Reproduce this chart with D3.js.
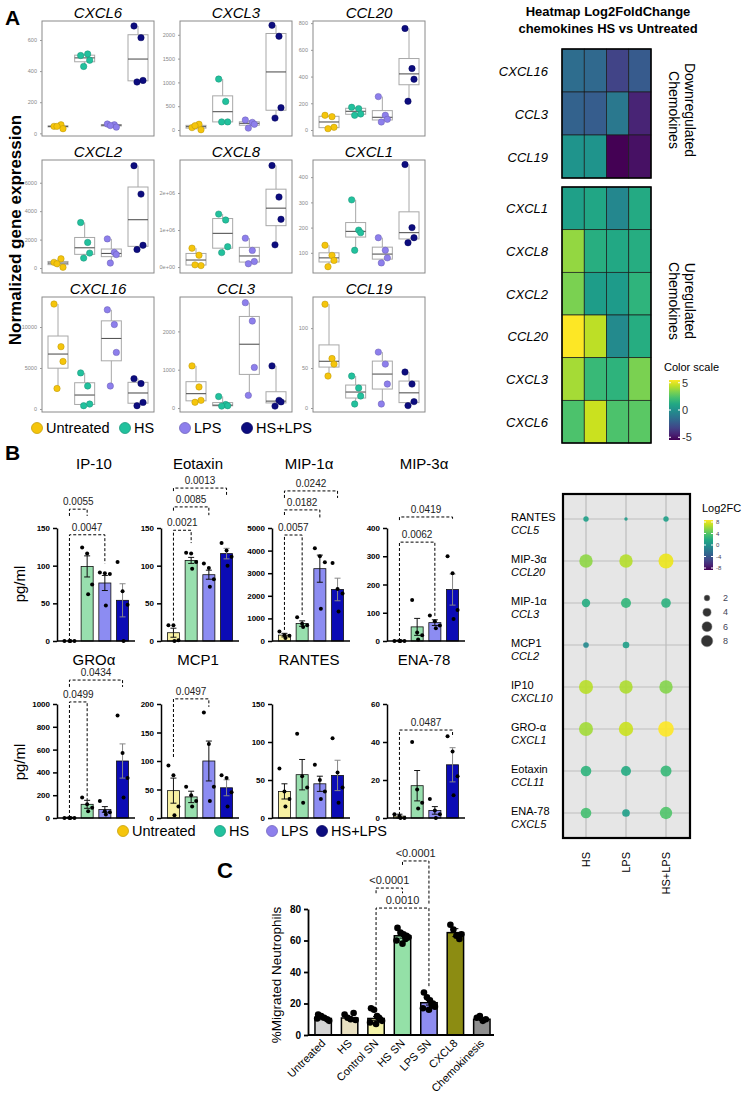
<!DOCTYPE html>
<html>
<head>
<meta charset="utf-8">
<script src="https://cdn.jsdelivr.net/npm/d3@7"></script>
<style>
body { margin: 0; background: #fff; }
svg { display: block; font-family: "Liberation Sans", Arial, sans-serif; }
</style>
</head>
<body>
<div id="fig"></div>
<script>
const groups = ["Untreated", "HS", "LPS", "HS+LPS"];
const groupColors = ["#f5c50c", "#22c19d", "#8d7fec", "#0c0c7e"];

// A - normalized expression, 4 samples per group
const genesA = ["CXCL6", "CXCL3", "CCL20", "CXCL2", "CXCL8", "CXCL1", "CXCL16", "CCL3", "CCL19"];
const cxcl6 = [[45, 55, 30, 45], [500, 510, 470, 430], [60, 55, 40, 50], [690, 615, 340, 330]];
const cxcl3 = [[50, 120, 5, 90], [1070, 600, 170, 170], [210, 160, 120, 40], [2200, 1970, 470, 250]];
const ccl20 = [[110, 100, 20, 10], [170, 160, 120, 110], [250, 110, 80, 60], [760, 460, 380, 215]];
const cxcl2 = [[400, 650, 50, 300], [3200, 1800, 1050, 700], [2050, 1100, 950, 350], [7200, 5200, 1600, 1300]];
const cxcl8 = [[0.51e6, 0.32e6, 0.04e6, 0.06e6], [1.43e6, 1.27e6, 0.55e6, 0.39e6], [0.78e6, 0.45e6, 0.15e6, 0.09e6], [2.74e6, 1.89e6, 1.29e6, 0.6e6]];
const cxcl1 = [[130, 90, 70, 45], [310, 190, 180, 110], [160, 110, 80, 60], [450, 200, 160, 140]];
const cxcl16 = [[12800, 7600, 5800, 2500], [4400, 2800, 600, 400], [12100, 10300, 6900, 2800], [3700, 3100, 800, 400]];
const ccl3 = [[1100, 550, 200, 150], [300, 90, 60, 50], [2750, 2270, 1060, 330], [1100, 200, 160, 50]];
const ccl19 = [[130, 62, 55, 40], [40, 25, 15, 5], [70, 55, 30, 5], [45, 30, 8, 3]];
const exprA = [cxcl6, cxcl3, ccl20, cxcl2, cxcl8, cxcl1, cxcl16, ccl3, ccl19];
const ticksA = [[0, 200, 400, 600], [0, 500, 1000, 1500, 2000], [0, 200, 400, 600, 800], [0, 2000, 4000, 6000],
  [0, 1e6, 2e6], [100, 200, 300, 400], [0, 5000, 10000], [0, 1000, 2000], [0, 50, 100]];
const tickLabA = [["0", "200", "400", "600"], ["0", "500", "1000", "1500", "2000"], ["0", "200", "400", "600", "800"],
  ["0", "2000", "4000", "6000"], ["0e+00", "1e+06", "2e+06"], ["100", "200", "300", "400"],
  ["0", "5000", "10000"], ["0", "1000", "2000"], ["0", "50", "100"]];
const extentA = [[-17, 722], [-126, 2290], [-45, 816], [-350, 7600], [-0.16e6, 2.89e6], [20, 468], [-370, 13660], [-104, 2898], [-5, 139]];

// A - heatmap log2FC
const downGenes = ["CXCL16", "CCL3", "CCL19"];
const downFC = [[-1.6, -1.8, -3.3, -2.4], [-2.1, -2.3, -1.1, -4.4], [0.2, 0.2, -5.5, -5]];
const upGenes = ["CXCL1", "CXCL8", "CXCL2", "CCL20", "CXCL3", "CXCL6"];
const upFC = [[0.7, 1, -0.4, 1.2], [3.7, 1.4, 1.1, 1.3], [3.3, 0.6, 0.5, 1.65], [5.5, 4.4, -0.3, 1.3], [4, 1.9, 1.6, 3.3], [2.4, 4.6, 2.4, 2.7]];
const heatTicks = [5, 0, -5];

// B - cytokines pg/ml
const bTitles = ["IP-10", "Eotaxin", "MIP-1α", "MIP-3α", "GROα", "MCP1", "RANTES", "ENA-78"];
const bMeans = [[0, 99, 77, 54], [11, 107, 88, 116], [260, 770, 3200, 2280], [2, 50, 65, 182],
  [5, 120, 75, 500], [48, 37, 100, 53], [35, 57, 45, 56], [1, 17, 4, 28]];
const bSems = [[0, 14, 10, 22], [6, 4, 6, 7], [80, 120, 600, 500], [1, 30, 10, 55],
  [3, 35, 25, 150], [22, 10, 35, 14], [10, 20, 10, 20], [1, 8, 2, 9]];
const bPoints = [
  [[0, 0, 0, 0], [124, 116, 75, 62], [91, 90, 89, 47], [105, 66, 48, 0]],
  [[21, 21, 1, 0], [117, 116, 105, 96], [103, 97, 82, 72], [130, 120, 112, 100]],
  [[420, 250, 230, 130], [1050, 760, 700, 620], [4100, 3750, 3480, 1430], [3450, 2300, 2100, 1300]],
  [[0, 0, 0, 0], [145, 30, 20, 5], [90, 70, 55, 45], [300, 240, 110, 78]],
  [[0, 0, 0, 0], [180, 120, 90, 60], [150, 60, 50, 30], [900, 570, 350, 180]],
  [[92, 75, 20, 5], [55, 40, 30, 20], [185, 130, 55, 30], [75, 70, 45, 20]],
  [[65, 35, 25, 15], [111, 55, 40, 20], [70, 50, 35, 25], [105, 60, 40, 20]],
  [[2, 1, 0, 0], [40, 15, 8, 5], [10, 4, 2, 0], [43, 35, 22, 12]]
];
const bTicks = [[0, 50, 100, 150], [0, 50, 100, 150], [0, 1000, 2000, 3000, 4000, 5000], [0, 100, 200, 300, 400],
  [0, 200, 400, 600, 800, 1000], [0, 50, 100, 150, 200], [0, 50, 100, 150], [0, 20, 40, 60]];
// [label, group a, group b, level, leg a end, leg b end]
const bBrackets = [
  [["0.0055", 0, 1, 175, 166, 166], ["0.0047", 0, 2, 141, 0, 103]],
  [["0.0013", 0, 3, 203, 199, 194], ["0.0085", 0, 2, 178, 173, 167], ["0.0021", 0, 1, 147, 27, 130]],
  [["0.0242", 0, 3, 6640, 6330, 6330], ["0.0182", 0, 2, 5800, 5575, 5440], ["0.0057", 0, 1, 4690, 490, 1150]],
  [["0.0419", 0, 3, 439, 428, 428], ["0.0062", 0, 2, 350, 0, 88]],
  [["0.0434", 0, 3, 1210, 1150, 1150], ["0.0499", 0, 1, 1018, 0, 158]],
  [["0.0497", 0, 2, 209, 107, 195]],
  [],
  [["0.0487", 0, 3, 46.3, 1.6, 42.6]]
];

// B - dot plot
const dotNames = ["RANTES", "MIP-3α", "MIP-1α", "MCP1", "IP10", "GRO-α", "Eotaxin", "ENA-78"];
const dotGenes = ["CCL5", "CCL20", "CCL3", "CCL2", "CXCL10", "CXCL1", "CCL11", "CXCL5"];
const dotConds = ["HS", "LPS", "HS+LPS"];
const dotFC = [[1, 0.8, 1], [5.3, 6.2, 7.5], [1.9, 2.5, 2.2], [-0.5, 1, null], [6.3, 6, 5], [5.8, 6.7, 8], [2.4, 1.8, 2.7], [3.2, 1, 3.6]];
const dotSize = [[1.7, 0.7, 1.7], [10.6, 10.6, 13.4], [4.2, 6, 5.5], [1.9, 2.6, null], [11.7, 10.6, 10.6], [11.7, 12.3, 14.5], [6.7, 6, 7.2], [6.7, 3.5, 9.1]];
const dotFcTicks = [8, 4, 0, -4, -8];
const dotSizeTicks = [2, 4, 6, 8];

// C - migration
const cCats = ["Untreated", "HS", "Control SN", "HS SN", "LPS SN", "CXCL8", "Chemokinesis"];
const cMeans = [10.5, 10.8, 10.5, 63, 20.5, 65, 10];
const cSems = [0.8, 1, 1.2, 1.5, 1.5, 2.5, 0.8];
const cPoints = [[13, 12, 11, 10, 9, 10.5], [13, 11, 10, 14, 9.5], [17, 16, 12, 10, 9, 8, 7, 11],
  [68, 65, 64, 63, 62, 60, 58, 61], [27, 24, 22, 20, 18, 17, 16, 19], [70, 67, 63, 61, 64], [11, 12, 9, 10]];
const cTicks = [0, 20, 40, 60, 80];
const cBrackets = [["<0.0001", 3, 4, 110.5, 108, 82.5], ["<0.0001", 2, 3, 93.3, 90, 90], ["0.0010", 2, 4, 80.6, 19, 30]];
const cFill = ["#d4d4d4", "#e9e1c2", "#f4f3a8", "#94e0a7", "#8e8cf0", "#8c8c12", "#8f8f8f"];

const svg = d3.select("#fig").append("svg").attr("width", 747).attr("height", 1098);
svg.append("rect").attr("width", 747).attr("height", 1098).attr("fill", "#fff");

function cleanAxis(g, size, weight, color) {
  g.attr("font-family", null).attr("font-size", null);
  g.selectAll("text").attr("font-size", size).attr("font-weight", weight).attr("fill", color);
}

// ---------- Panel A boxplots
svg.append("text").attr("x", 5).attr("y", 25).attr("font-size", 21).attr("font-weight", "bold").text("A");
svg.append("text").attr("transform", "translate(21,230) rotate(-90)").attr("text-anchor", "middle")
  .attr("font-size", 17).attr("font-weight", "bold").text("Normalized gene expression");

const colsA = [[42, 154], [180, 292], [313, 425]];
const rowsA = [[21, 136], [160, 273], [297, 412]];
const jit = [-4, 3, 5, -1];

genesA.forEach((gene, i) => {
  const [x0, x1] = colsA[i % 3], [y0, y1] = rowsA[Math.floor(i / 3)];
  const gx = d3.scalePoint().domain(groups).range([x0, x1]).padding(0.6);
  const gy = d3.scaleLinear().domain(extentA[i]).range([y1, y0]);
  const p = svg.append("g");
  p.append("rect").attr("x", x0).attr("y", y0).attr("width", x1 - x0).attr("height", y1 - y0)
    .attr("fill", "#fff").attr("stroke", "#8a8a8a").attr("stroke-width", 1);
  const ax = p.append("g").attr("transform", "translate(" + x0 + ",0)")
    .call(d3.axisLeft(gy).tickValues(ticksA[i]).tickSize(2).tickFormat((d, j) => tickLabA[i][j]));
  ax.select(".domain").remove();
  ax.selectAll("line").attr("stroke", "#999");
  cleanAxis(ax, 5.5, "normal", "#888");
  p.append("text").attr("x", (x0 + x1) / 2).attr("y", y0 - 3).attr("text-anchor", "middle")
    .attr("font-size", 15).attr("font-style", "italic").text(gene);

  exprA[i].forEach((vals, k) => {
    const s = vals.slice().sort(d3.ascending);
    const q1 = d3.quantile(s, 0.25), md = d3.quantile(s, 0.5), q3 = d3.quantile(s, 0.75);
    const cx = gx(groups[k]);
    p.append("line").attr("x1", cx).attr("x2", cx).attr("y1", gy(s[0])).attr("y2", gy(s[s.length - 1]))
      .attr("stroke", "#a8a8a8");
    p.append("rect").attr("x", cx - 10).attr("width", 20).attr("y", gy(q3)).attr("height", gy(q1) - gy(q3))
      .attr("fill", "#fff").attr("stroke", "#a8a8a8");
    p.append("line").attr("x1", cx - 10).attr("x2", cx + 10).attr("y1", gy(md)).attr("y2", gy(md))
      .attr("stroke", "#555").attr("stroke-width", 1.1);
    p.selectAll(null).data(vals).enter().append("circle")
      .attr("cx", (d, j) => cx + jit[j]).attr("cy", d => gy(d)).attr("r", 3.2)
      .attr("fill", groupColors[k]).attr("stroke", d3.color(groupColors[k]).darker(0.8)).attr("stroke-width", 0.5);
  });
});

function legend(y, xs) {
  const lg = svg.append("g");
  groups.forEach((g, k) => {
    lg.append("circle").attr("cx", xs[k]).attr("cy", y).attr("r", 5.5)
      .attr("fill", groupColors[k]).attr("stroke", d3.color(groupColors[k]).darker(0.6)).attr("stroke-width", 0.8);
    lg.append("text").attr("x", xs[k] + 9).attr("y", y + 5).attr("font-size", 14.5).text(g);
  });
}
legend(428, [37, 125, 185, 247]);

// ---------- Heatmap
svg.append("text").attr("x", 608).attr("y", 16).attr("text-anchor", "middle").attr("font-size", 13)
  .attr("font-weight", "bold").text("Heatmap Log2FoldChange");
svg.append("text").attr("x", 608).attr("y", 33).attr("text-anchor", "middle").attr("font-size", 13)
  .attr("font-weight", "bold").text("chemokines HS vs Untreated");

const heatColor = d3.scaleSequential(d3.interpolateViridis).domain([-5.5, 5.5]);
const hx = d3.scaleBand().domain(d3.range(4)).range([562, 651]);

function heatBlock(genes, fc, top, bottom, side, midY) {
  const hy = d3.scaleBand().domain(genes).range([top, bottom]);
  const hg = svg.append("g");
  genes.forEach((g, r) => {
    fc[r].forEach((v, c) => {
      hg.append("rect").attr("x", hx(c)).attr("y", hy(g)).attr("width", hx.bandwidth()).attr("height", hy.bandwidth())
        .attr("fill", heatColor(v)).attr("stroke", "#1a1a1a").attr("stroke-width", 0.7);
    });
    hg.append("text").attr("x", 548).attr("y", hy(g) + hy.bandwidth() / 2 + 5).attr("text-anchor", "end")
      .attr("font-size", 13).attr("font-style", "italic").text(g);
  });
  hg.append("rect").attr("x", 562).attr("y", top).attr("width", 89).attr("height", bottom - top)
    .attr("fill", "none").attr("stroke", "#000").attr("stroke-width", 1.5);
  hg.append("text").attr("transform", "translate(685," + midY + ") rotate(90)").attr("text-anchor", "middle")
    .attr("font-size", 14).text(side);
  hg.append("text").attr("transform", "translate(669," + midY + ") rotate(90)").attr("text-anchor", "middle")
    .attr("font-size", 14).text("Chemokines");
}
heatBlock(downGenes, downFC, 49, 178, "Downregulated", 110);
heatBlock(upGenes, upFC, 187, 443, "Upregulated", 301);

const defs = svg.append("defs");
function vGradient(id) {
  const lg = defs.append("linearGradient").attr("id", id).attr("x1", 0).attr("x2", 0).attr("y1", 0).attr("y2", 1);
  d3.range(0, 1.01, 0.1).forEach(t => lg.append("stop").attr("offset", t).attr("stop-color", d3.interpolateViridis(1 - t)));
}
vGradient("vir1");
vGradient("vir2");

svg.append("text").attr("x", 664).attr("y", 371).attr("font-size", 11).text("Color scale");
const hs = d3.scaleLinear().domain([5.5, -5.5]).range([380, 440]);
svg.append("rect").attr("x", 669).attr("y", 380).attr("width", 11).attr("height", 60).attr("fill", "url(#vir1)");
heatTicks.forEach(t => {
  svg.append("line").attr("x1", 669).attr("x2", 671).attr("y1", hs(t)).attr("y2", hs(t)).attr("stroke", "#fff");
  svg.append("line").attr("x1", 678).attr("x2", 680).attr("y1", hs(t)).attr("y2", hs(t)).attr("stroke", "#fff");
  svg.append("text").attr("x", 682).attr("y", hs(t) + 4).attr("font-size", 11).attr("fill", "#333").text(t);
});

// ---------- Panel B bar charts
svg.append("text").attr("x", 5).attr("y", 460).attr("font-size", 21).attr("font-weight", "bold").text("B");
const bAxisX = [57, 161, 272, 387];
const bBase = [641, 818], bTop = [528, 704];
const barFill = ["#f7f0a2", "#98dfae", "#8c8cf2", "#0b0bb5"];
const dotJit = [-5, 0, 5, 1];

function drawBracket(g, xpos, y, b, fs) {
  const [lab, a, c, lev, la, lc] = b;
  const xa = xpos(a), xc = xpos(c), yl = y(lev);
  g.append("path").attr("d", "M" + xa + "," + y(la) + "V" + yl + "H" + xc + "V" + y(lc))
    .attr("fill", "none").attr("stroke", "#000").attr("stroke-width", 1).attr("stroke-dasharray", "3,2");
  g.append("text").attr("x", (xa + xc) / 2).attr("y", yl - 4).attr("text-anchor", "middle")
    .attr("font-size", fs).attr("fill", "#222").text(lab);
}

bTitles.forEach((title, i) => {
  const ax0 = bAxisX[i % 4], r = Math.floor(i / 4);
  const y = d3.scaleLinear().domain([0, d3.max(bTicks[i])]).range([bBase[r], bTop[r]]);
  const x = d3.scaleBand().domain(groups).range([ax0 + 2, ax0 + 76]).paddingInner(0.32).paddingOuter(0.25);
  const xc = k => x(groups[k]) + x.bandwidth() / 2;
  const g = svg.append("g");

  g.append("text").attr("x", ax0 + 37).attr("y", r === 0 ? 469 : 665).attr("text-anchor", "middle")
    .attr("font-size", 15).text(title);

  groups.forEach((grp, k) => {
    const m = bMeans[i][k], se = bSems[i][k];
    g.append("rect").attr("x", x(grp)).attr("width", x.bandwidth()).attr("y", y(m)).attr("height", y(0) - y(m))
      .attr("fill", barFill[k]).attr("stroke", "#111").attr("stroke-width", 0.8);
    const cx = xc(k);
    if (se > 0) {
      g.append("path").attr("d", "M" + cx + "," + y(m - se) + "V" + y(m + se) +
        "M" + (cx - 3) + "," + y(m + se) + "H" + (cx + 3) + "M" + (cx - 3) + "," + y(Math.max(0, m - se)) + "H" + (cx + 3))
        .attr("stroke", k === 3 ? "#888" : "#111").attr("stroke-width", 1).attr("fill", "none");
    }
    g.selectAll(null).data(bPoints[i][k]).enter().append("circle")
      .attr("cx", (d, j) => cx + dotJit[j]).attr("cy", d => y(d)).attr("r", 2).attr("fill", "#000");
  });

  const ay = g.append("g").attr("transform", "translate(" + ax0 + ",0)")
    .call(d3.axisLeft(y).tickValues(bTicks[i]).tickSize(4).tickSizeOuter(0).tickFormat(d3.format("d")));
  ay.select(".domain").attr("stroke-width", 1.5);
  ay.selectAll("line").attr("stroke-width", 1.5);
  cleanAxis(ay, 8, "bold", "#000");
  g.append("line").attr("x1", ax0).attr("x2", ax0 + 78).attr("y1", y(0)).attr("y2", y(0))
    .attr("stroke", "#000").attr("stroke-width", 1.5);

  bBrackets[i].forEach(b => drawBracket(g, xc, y, b, 10));
});

svg.append("text").attr("transform", "translate(25,584) rotate(-90)").attr("text-anchor", "middle")
  .attr("font-size", 15).text("pg/ml");
svg.append("text").attr("transform", "translate(25,762) rotate(-90)").attr("text-anchor", "middle")
  .attr("font-size", 15).text("pg/ml");
legend(831, [123, 220, 272, 322]);

// ---------- Dot plot
const dx = d3.scalePoint().domain(dotConds).range([586, 666]);
const dy = d3.scalePoint().domain(dotNames).range([519, 813]);
const dotColor = d3.scaleSequential(d3.interpolateViridis).domain([-8, 8]);
const dotR = d3.scaleSqrt().domain([0, 8]).range([0, 5.8]);
const dp = svg.append("g");
dp.append("rect").attr("x", 563).attr("y", 494).attr("width", 127).attr("height", 344).attr("fill", "#e6e6e6");
dotConds.forEach(c => dp.append("line").attr("x1", dx(c)).attr("x2", dx(c)).attr("y1", 494).attr("y2", 838)
  .attr("stroke", "#bdbdbd").attr("stroke-width", 1.2));
dotNames.forEach((n, r) => {
  dp.append("line").attr("x1", 563).attr("x2", 690).attr("y1", dy(n)).attr("y2", dy(n))
    .attr("stroke", "#bdbdbd").attr("stroke-width", 1.2);
  dp.append("text").attr("x", 511).attr("y", dy(n) + 2).attr("font-size", 11).text(n);
  dp.append("text").attr("x", 511).attr("y", dy(n) + 15).attr("font-size", 11).attr("font-style", "italic").text(dotGenes[r]);
  dotConds.forEach((c, k) => {
    if (dotFC[r][k] === null) return;
    dp.append("circle").attr("cx", dx(c)).attr("cy", dy(n)).attr("r", dotR(dotSize[r][k]))
      .attr("fill", dotColor(dotFC[r][k])).attr("fill-opacity", 0.9);
  });
});
dp.append("rect").attr("x", 563).attr("y", 494).attr("width", 127).attr("height", 344)
  .attr("fill", "none").attr("stroke", "#000").attr("stroke-width", 2.2);
dotConds.forEach(c => dp.append("text").attr("transform", "translate(" + (dx(c) + 4) + ",852) rotate(-90)")
  .attr("text-anchor", "end").attr("font-size", 11).text(c));

dp.append("text").attr("x", 702).attr("y", 512).attr("font-size", 11).text("Log2FC");
const fs = d3.scaleLinear().domain([8, -8]).range([522, 568]);
dp.append("rect").attr("x", 704).attr("y", 520).attr("width", 9).attr("height", 50).attr("fill", "url(#vir2)");
dotFcTicks.forEach(t => {
  dp.append("line").attr("x1", 704).attr("x2", 706).attr("y1", fs(t)).attr("y2", fs(t)).attr("stroke", "#fff");
  dp.append("line").attr("x1", 711).attr("x2", 713).attr("y1", fs(t)).attr("y2", fs(t)).attr("stroke", "#fff");
  dp.append("text").attr("x", 716).attr("y", fs(t) + 2).attr("font-size", 6).attr("fill", "#445").text(t);
});
const sy = d3.scalePoint().domain(dotSizeTicks).range([598, 641]);
dotSizeTicks.forEach(t => {
  dp.append("circle").attr("cx", 707).attr("cy", sy(t)).attr("r", dotR(t)).attr("fill", "#333").attr("stroke", "#888").attr("stroke-width", 0.5);
  dp.append("text").attr("x", 723).attr("y", sy(t) + 3).attr("font-size", 9).attr("fill", "#445").text(t);
});

// ---------- Panel C
svg.append("text").attr("x", 217).attr("y", 878).attr("font-size", 22).attr("font-weight", "bold").text("C");
const cy = d3.scaleLinear().domain([0, 80]).range([1035, 909]);
const cx = d3.scaleBand().domain(cCats).range([311, 494]).paddingInner(0.38).paddingOuter(0.15);
const cc = k => cx(cCats[k]) + cx.bandwidth() / 2;
const cg = svg.append("g");
const cJit = [-5, -2, 1, 4, 6, -6, 0, 3];
cCats.forEach((c, k) => {
  const m = cMeans[k], se = cSems[k], xm = cc(k);
  cg.append("rect").attr("x", cx(c)).attr("width", cx.bandwidth()).attr("y", cy(m)).attr("height", cy(0) - cy(m))
    .attr("fill", cFill[k]).attr("stroke", "#000").attr("stroke-width", 1.5);
  cg.append("path").attr("d", "M" + xm + "," + cy(m - se) + "V" + cy(m + se) + "M" + (xm - 3) + "," + cy(m + se) + "H" + (xm + 3) +
    "M" + (xm - 3) + "," + cy(m - se) + "H" + (xm + 3)).attr("stroke", "#000").attr("fill", "none");
  cg.selectAll(null).data(cPoints[k]).enter().append("circle")
    .attr("cx", (d, j) => xm + cJit[j]).attr("cy", d => cy(d)).attr("r", 3.3).attr("fill", "#000");
  cg.append("text").attr("transform", "translate(" + (xm + 3) + ",1044) rotate(-45)").attr("text-anchor", "end")
    .attr("font-size", 11).text(c);
});
const cAx = cg.append("g").attr("transform", "translate(308,0)")
  .call(d3.axisLeft(cy).tickValues(cTicks).tickSize(4).tickSizeOuter(0));
cAx.select(".domain").attr("stroke-width", 1.8);
cAx.selectAll("line").attr("stroke-width", 1.8);
cleanAxis(cAx, 10, "bold", "#000");
cg.append("line").attr("x1", 308).attr("x2", 494).attr("y1", cy(0)).attr("y2", cy(0)).attr("stroke", "#000").attr("stroke-width", 1.8);
cBrackets.forEach(b => drawBracket(cg, cc, cy, b, 11));
svg.append("text").attr("transform", "translate(281,975) rotate(-90)").attr("text-anchor", "middle")
  .attr("font-size", 13.5).text("%Migrated Neutrophils");
</script>
</body>
</html>
